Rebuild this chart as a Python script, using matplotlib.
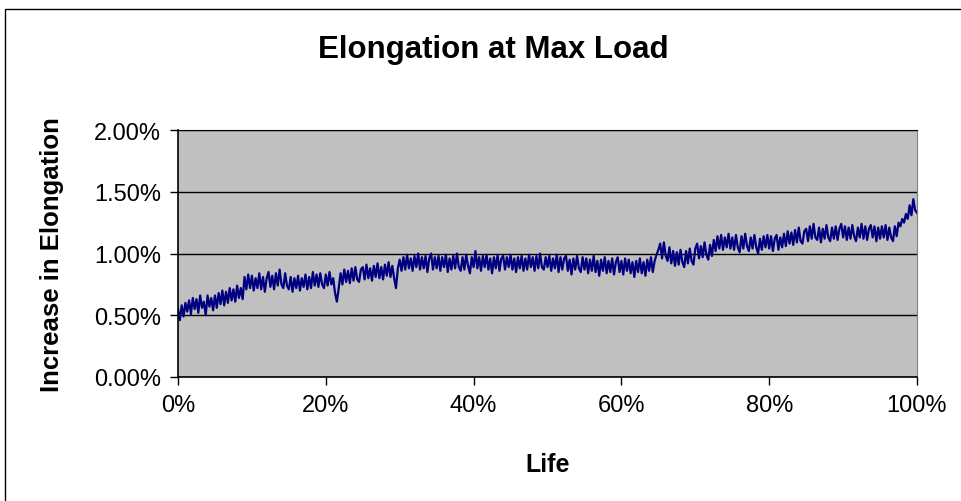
import numpy as np
import matplotlib
matplotlib.use('Agg')
import matplotlib.pyplot as plt
from matplotlib.patches import Rectangle
from matplotlib.ticker import FuncFormatter

plt.rcParams['font.family'] = ['Liberation Sans', 'DejaVu Sans']

# increase in elongation (%), one value every 0.25 % of life
elongation = [
    0.55, 0.46, 0.58, 0.49, 0.60, 0.53, 0.62, 0.51, 0.64, 0.55, 0.63, 0.52, 0.66, 0.56, 0.61, 0.50, 0.66, 0.57, 0.64, 0.54,
    0.66, 0.56, 0.68, 0.59, 0.70, 0.58, 0.69, 0.60, 0.72, 0.62, 0.71, 0.61, 0.74, 0.64, 0.72, 0.63, 0.81, 0.71, 0.83, 0.72,
    0.82, 0.70, 0.80, 0.72, 0.84, 0.71, 0.81, 0.69, 0.80, 0.85, 0.73, 0.82, 0.71, 0.84, 0.74, 0.87, 0.75, 0.72, 0.84, 0.74,
    0.71, 0.81, 0.69, 0.80, 0.72, 0.82, 0.70, 0.80, 0.73, 0.83, 0.71, 0.81, 0.72, 0.85, 0.74, 0.83, 0.73, 0.84, 0.75, 0.72,
    0.83, 0.74, 0.85, 0.75, 0.80, 0.68, 0.61, 0.72, 0.84, 0.75, 0.87, 0.77, 0.86, 0.76, 0.88, 0.78, 0.89, 0.79, 0.77, 0.87,
    0.89, 0.79, 0.91, 0.80, 0.88, 0.78, 0.90, 0.81, 0.92, 0.80, 0.89, 0.79, 0.91, 0.82, 0.93, 0.81, 0.90, 0.80, 0.72, 0.88,
    0.95, 0.86, 0.97, 0.87, 0.99, 0.88, 0.96, 0.86, 0.98, 0.89, 1.00, 0.87, 0.97, 0.88, 0.98, 0.85, 0.96, 1.00, 0.87, 0.97,
    0.88, 0.98, 0.86, 0.97, 0.89, 0.99, 0.85, 0.96, 0.87, 0.98, 0.88, 1.00, 0.89, 0.86, 0.97, 0.87, 0.99, 0.90, 0.84, 0.97,
    0.89, 1.02, 0.88, 0.97, 0.86, 0.98, 0.89, 0.99, 0.87, 0.96, 0.84, 0.97, 0.88, 0.99, 0.86, 0.96, 0.98, 0.87, 0.97, 0.89,
    0.99, 0.87, 0.96, 0.85, 0.97, 0.88, 0.98, 0.86, 0.96, 0.87, 0.99, 0.89, 0.97, 0.86, 0.98, 0.88, 1.00, 0.89, 0.87, 0.97,
    0.89, 0.98, 0.86, 0.96, 0.88, 0.99, 0.85, 0.97, 0.87, 0.96, 0.98, 0.86, 0.95, 0.83, 0.96, 0.87, 0.98, 0.88, 0.85, 0.97,
    0.87, 0.96, 0.84, 0.95, 0.86, 0.98, 0.85, 0.94, 0.82, 0.95, 0.86, 0.97, 0.84, 0.94, 0.85, 0.96, 0.83, 0.93, 0.97, 0.85,
    0.94, 0.83, 0.96, 0.86, 0.95, 0.84, 0.93, 0.81, 0.94, 0.85, 0.96, 0.84, 0.93, 0.82, 0.95, 0.86, 0.97, 0.85, 0.94, 0.99,
    1.03, 1.08, 0.96, 1.09, 0.98, 0.94, 1.05, 0.92, 1.02, 0.90, 1.01, 0.91, 1.03, 0.93, 0.89, 1.02, 0.92, 1.04, 0.94, 0.91,
    1.04, 1.08, 0.96, 1.06, 0.97, 1.09, 0.99, 0.95, 1.07, 0.98, 1.11, 1.02, 1.14, 1.04, 1.15, 1.03, 1.13, 1.05, 1.16, 1.04,
    1.13, 1.03, 1.15, 1.05, 1.01, 1.14, 1.04, 1.16, 1.06, 1.02, 1.13, 1.04, 1.15, 1.05, 1.00, 1.12, 1.03, 1.14, 1.05, 1.15,
    1.04, 1.14, 1.02, 1.12, 1.15, 1.03, 1.13, 1.05, 1.16, 1.06, 1.18, 1.08, 1.17, 1.07, 1.19, 1.09, 1.21, 1.10, 1.08, 1.18,
    1.20, 1.10, 1.22, 1.12, 1.24, 1.13, 1.11, 1.21, 1.09, 1.20, 1.12, 1.23, 1.13, 1.10, 1.21, 1.12, 1.22, 1.11, 1.20, 1.24,
    1.13, 1.22, 1.11, 1.21, 1.12, 1.23, 1.14, 1.10, 1.21, 1.13, 1.24, 1.12, 1.22, 1.11, 1.20, 1.23, 1.13, 1.22, 1.10, 1.21,
    1.12, 1.22, 1.13, 1.23, 1.11, 1.21, 1.13, 1.10, 1.22, 1.14, 1.25, 1.22, 1.28, 1.25, 1.32, 1.28, 1.39, 1.31, 1.44, 1.35,
    1.33,
]
# life in % (samples are evenly spaced over 0..100)
life = np.linspace(0, 100, len(elongation))

y_ticks = [0.0, 0.5, 1.0, 1.5, 2.0]
x_ticks = [0, 20, 40, 60, 80, 100]

fig = plt.figure(figsize=(9.61, 5.02), dpi=100)
fig.patches.append(Rectangle((5 / 961, -0.05), 1.1, 1 - 10 / 502 + 0.05,
                             transform=fig.transFigure, fill=False,
                             edgecolor='black', linewidth=1))

ax = fig.add_axes([178 / 961, 1 - 378 / 502, 739 / 961, 247 / 502])
ax.set_facecolor('#c0c0c0')
ax.plot(life, elongation, color='#000080', linewidth=1.6)

ax.set_xlim(0, 100)
ax.set_ylim(0, 2.0)
ax.set_xticks(x_ticks)
ax.set_yticks(y_ticks)
ax.xaxis.set_major_formatter(FuncFormatter(lambda v, p: '%d%%' % v))
ax.yaxis.set_major_formatter(FuncFormatter(lambda v, p: '%.2f%%' % v))
ax.grid(axis='y', color='black', linewidth=1)
ax.set_axisbelow(True)
ax.tick_params(direction='out', length=6, width=1, labelsize=17, pad=6)

ax.spines['right'].set_color('#808080')
ax.spines['top'].set_color('black')
for s in ['left', 'bottom']:
    ax.spines[s].set_linewidth(1.2)

ax.set_xlabel('Life', fontsize=18, fontweight='bold', labelpad=26)
ax.set_ylabel('Increase in Elongation', fontsize=18.5, fontweight='bold', labelpad=22)
fig.text(493 / 961, 1 - 50 / 502, 'Elongation at Max Load', ha='center', va='center',
         fontsize=22.5, fontweight='bold')

fig.savefig('out.png', dpi=100)
